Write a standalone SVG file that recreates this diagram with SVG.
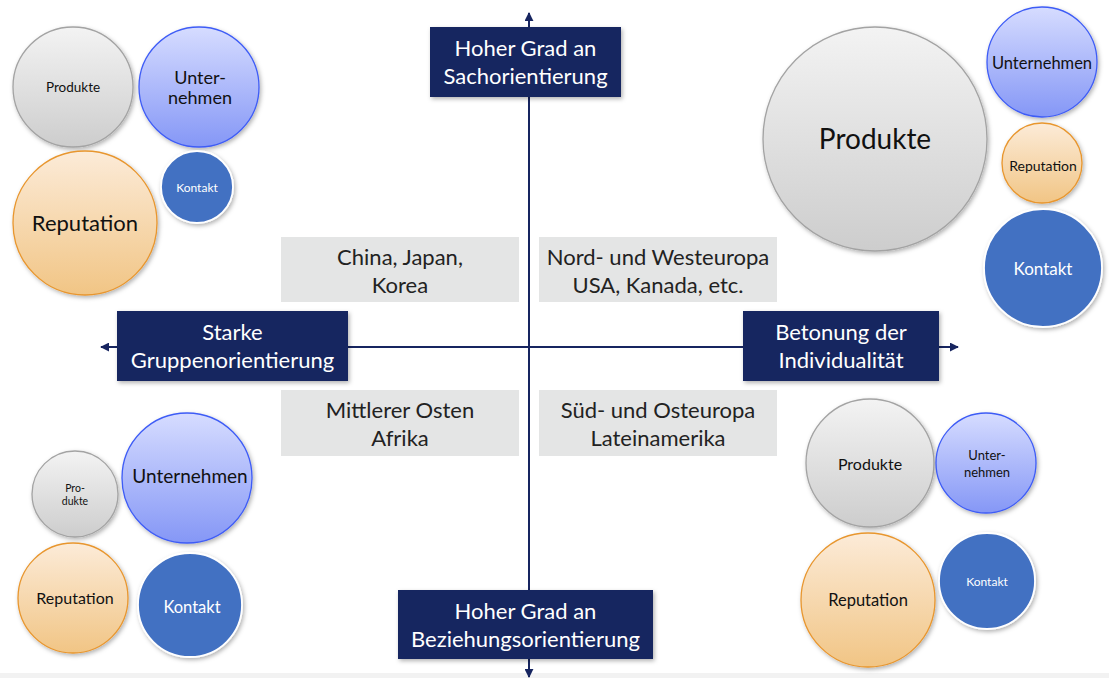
<svg xmlns="http://www.w3.org/2000/svg" width="1109" height="678" viewBox="0 0 1109 678">
<defs>
<linearGradient id="gGrey" x1="0" y1="0" x2="0" y2="1"><stop offset="0" stop-color="#f3f3f3"/><stop offset="1" stop-color="#cdcdcd"/></linearGradient>
<linearGradient id="gBlue" x1="0" y1="0" x2="0" y2="1"><stop offset="0" stop-color="#d6dcff"/><stop offset="1" stop-color="#8597f6"/></linearGradient>
<linearGradient id="gOrange" x1="0" y1="0" x2="0" y2="1"><stop offset="0" stop-color="#fcebd8"/><stop offset="1" stop-color="#f1c585"/></linearGradient>
<filter id="sh" x="-20%" y="-20%" width="140%" height="140%"><feDropShadow dx="1.5" dy="2" stdDeviation="2" flood-color="#000" flood-opacity="0.3"/></filter>
<marker id="arr" viewBox="0 0 10 10" refX="9" refY="5" markerWidth="4.5" markerHeight="4.5" orient="auto"><path d="M0,0 L10,5 L0,10 z" fill="#172560"/></marker>
<style>
text{font-family:"Lato","Liberation Sans",sans-serif;text-anchor:middle}
.navy{fill:#172560;filter:url(#sh)}
.nt{fill:#fff;font-size:22px}
.grey{fill:#e4e5e5}
.gt{fill:#222;font-size:22px}
.cg{fill:url(#gGrey);stroke:#a3a3a3;stroke-width:1.3;filter:url(#sh)}
.cb{fill:url(#gBlue);stroke:#3e5cf6;stroke-width:1.3;filter:url(#sh)}
.co{fill:url(#gOrange);stroke:#e8962e;stroke-width:1.3;filter:url(#sh)}
.ck{fill:#4371c2;stroke:#fff;stroke-width:1.8;filter:url(#sh)}
.dk{fill:#111}
.wt{fill:#fff}
.ax{stroke:#172560;stroke-width:2;fill:none;marker-end:url(#arr)}
</style>
</defs>
<rect x="0" y="0" width="1109" height="678" fill="#fff"/>
<rect x="0" y="673" width="1109" height="5" fill="#f2f2f2"/>

<g id="quadrant-labels">
<g id="q-tl"><rect class="grey" x="281" y="237" width="238" height="65"/><text class="gt" x="400" y="265">China, Japan,</text><text class="gt" x="400" y="293">Korea</text></g>
<g id="q-tr"><rect class="grey" x="539" y="237" width="238" height="65"/><text class="gt" x="658" y="265">Nord- und Westeuropa</text><text class="gt" x="658" y="293">USA, Kanada, etc.</text></g>
<g id="q-bl"><rect class="grey" x="281" y="390" width="238" height="66"/><text class="gt" x="400" y="418">Mittlerer Osten</text><text class="gt" x="400" y="446">Afrika</text></g>
<g id="q-br"><rect class="grey" x="539" y="390" width="238" height="66"/><text class="gt" x="658" y="418">Süd- und Osteuropa</text><text class="gt" x="658" y="446">Lateinamerika</text></g>
</g>

<g id="connectors">
<line class="ax" x1="529" y1="347" x2="529" y2="13"/>
<line class="ax" x1="529" y1="347" x2="529" y2="677"/>
<line class="ax" x1="529" y1="347" x2="101" y2="347"/>
<line class="ax" x1="529" y1="347" x2="958" y2="347"/>
</g>

<g id="axis-top"><rect class="navy" x="430" y="27" width="191" height="70"/><text class="nt" x="525.5" y="56">Hoher Grad an</text><text class="nt" x="525.5" y="84">Sachorientierung</text></g>
<g id="axis-bottom"><rect class="navy" x="398" y="590" width="255" height="69"/><text class="nt" x="525.5" y="619">Hoher Grad an</text><text class="nt" x="525.5" y="647">Beziehungsorientierung</text></g>
<g id="axis-left"><rect class="navy" x="117" y="311" width="231" height="70"/><text class="nt" x="232.5" y="340">Starke</text><text class="nt" x="232.5" y="368">Gruppenorientierung</text></g>
<g id="axis-right"><rect class="navy" x="743" y="311" width="196" height="70"/><text class="nt" x="841" y="340">Betonung der</text><text class="nt" x="841" y="368">Individualität</text></g>

<g id="tl-produkte"><circle class="cg" cx="73" cy="87" r="60"/><text class="dk" x="73" y="92" font-size="13.5">Produkte</text></g>
<g id="tl-unternehmen"><circle class="cb" cx="199" cy="87" r="60"/><text class="dk" x="200" y="84" font-size="18">Unter-</text><text class="dk" x="200" y="104" font-size="18">nehmen</text></g>
<g id="tl-kontakt"><circle class="ck" cx="197" cy="187" r="36"/><text class="wt" x="197" y="192" font-size="12">Kontakt</text></g>
<g id="tl-reputation"><circle class="co" cx="85" cy="223" r="72"/><text class="dk" x="85" y="231" font-size="22">Reputation</text></g>

<g id="tr-produkte"><circle class="cg" cx="875" cy="139" r="112"/><text class="dk" x="875" y="149" font-size="28">Produkte</text></g>
<g id="tr-unternehmen"><circle class="cb" cx="1042" cy="62" r="55"/><text class="dk" x="1042" y="69" font-size="16.5">Unternehmen</text></g>
<g id="tr-reputation"><circle class="co" cx="1042" cy="163" r="40"/><text class="dk" x="1043" y="171" font-size="14">Reputation</text></g>
<g id="tr-kontakt"><circle class="ck" cx="1043" cy="268" r="59"/><text class="wt" x="1043" y="275" font-size="17">Kontakt</text></g>

<g id="bl-produkte"><circle class="cg" cx="75" cy="494" r="43"/><text class="dk" x="75" y="492" font-size="10.5">Pro-</text><text class="dk" x="75" y="505" font-size="10.5">dukte</text></g>
<g id="bl-unternehmen"><circle class="cb" cx="187" cy="478" r="65"/><text class="dk" x="190" y="483" font-size="19">Unternehmen</text></g>
<g id="bl-reputation"><circle class="co" cx="73" cy="598" r="55"/><text class="dk" x="75" y="604" font-size="16">Reputation</text></g>
<g id="bl-kontakt"><circle class="ck" cx="190" cy="605" r="52"/><text class="wt" x="192" y="613" font-size="16.5">Kontakt</text></g>

<g id="br-produkte"><circle class="cg" cx="870" cy="463" r="64"/><text class="dk" x="870" y="470" font-size="16">Produkte</text></g>
<g id="br-unternehmen"><circle class="cb" cx="986" cy="463" r="50"/><text class="dk" x="987" y="460" font-size="13">Unter-</text><text class="dk" x="987" y="477" font-size="13">nehmen</text></g>
<g id="br-reputation"><circle class="co" cx="868" cy="600" r="67"/><text class="dk" x="868" y="606" font-size="16.5">Reputation</text></g>
<g id="br-kontakt"><circle class="ck" cx="987" cy="581" r="48"/><text class="wt" x="987" y="586" font-size="12">Kontakt</text></g>
</svg>
